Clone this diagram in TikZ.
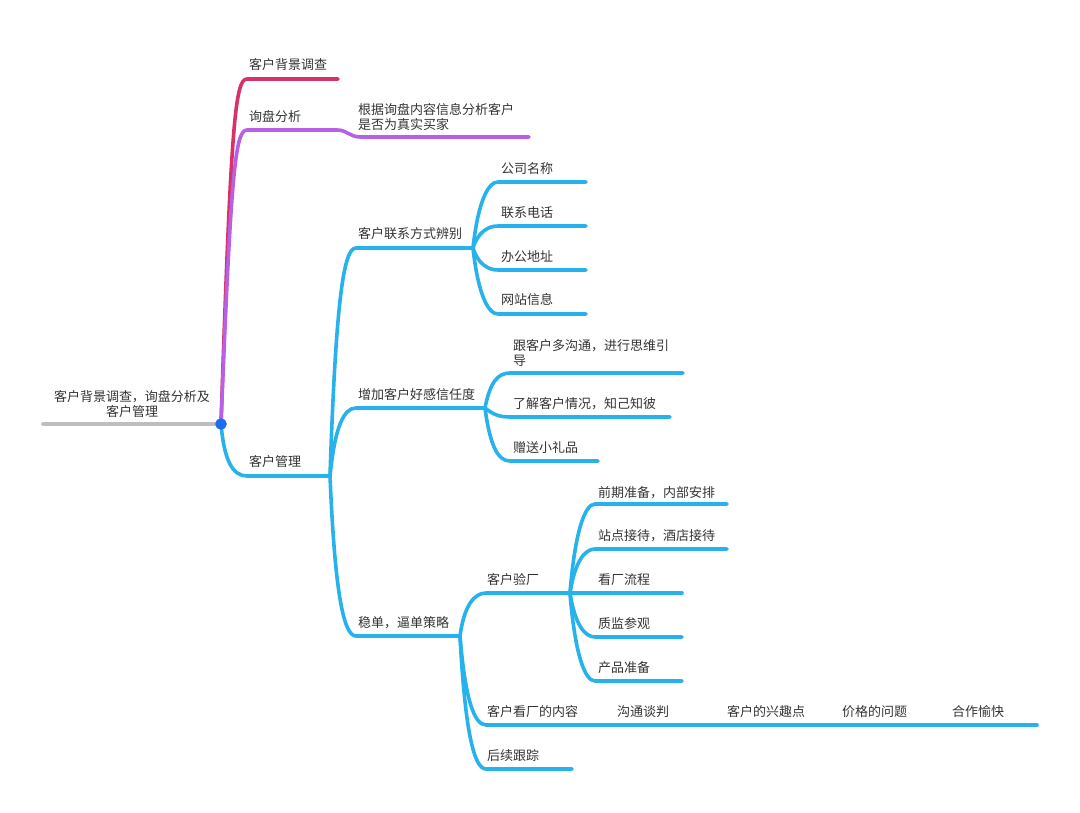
\documentclass[tikz,border=0pt]{standalone}
\usepackage{fontspec}
\setmainfont{Noto Sans CJK SC}

\definecolor{vermelho}{RGB}{214,51,102}
\definecolor{roxo}{RGB}{185,95,230}
\definecolor{azul}{RGB}{40,178,236}
\definecolor{cinza}{RGB}{190,190,190}
\definecolor{ponto}{RGB}{25,110,240}
\definecolor{texto}{RGB}{51,51,51}

\begin{document}
\begin{tikzpicture}[x=1pt,y=-1pt,
    ramo/.style={line width=3.6pt, line cap=round},
    rotulo/.style={anchor=west, inner sep=0pt, text=texto, font=\fontsize{13}{15}\selectfont}]
        \useasboundingbox (0,0) rectangle (1080,813);

        % Textos
        \node[rotulo, anchor=center, align=center] (raiz) at (132,404) {客户背景调查，询盘分析及\\客户管理};
        \node[rotulo] (fundo) at (249,65) {客户背景调查};
        \node[rotulo] (inquerito) at (249,117) {询盘分析};
        \node[rotulo, align=left] (comprador) at (358,117) {根据询盘内容信息分析客户\\是否为真实买家};
        \node[rotulo] (gestao) at (249,462) {客户管理};
        \node[rotulo] (contato) at (358,234) {客户联系方式辨别};
        \node[rotulo] (confianca) at (358,395) {增加客户好感信任度};
        \node[rotulo] (estrategia) at (358,623) {稳单，逼单策略};
        \node[rotulo] (empresa) at (501,169) {公司名称};
        \node[rotulo] (telefone) at (501,213) {联系电话};
        \node[rotulo] (endereco) at (501,257) {办公地址};
        \node[rotulo] (site) at (501,300) {网站信息};
        \node[rotulo, align=left] (conversa) at (513,353) {跟客户多沟通，进行思维引\\导};
        \node[rotulo] (conhecer) at (513,404) {了解客户情况，知己知彼};
        \node[rotulo] (brinde) at (513,448) {赠送小礼品};
        \node[rotulo] (visita) at (487,580) {客户验厂};
        \node[rotulo] (conteudo) at (487,712) {客户看厂的内容};
        \node[rotulo] (seguimento) at (487,756) {后续跟踪};
        \node[rotulo] (preparo) at (598,493) {前期准备，内部安排};
        \node[rotulo] (recepcao) at (598,536) {站点接待，酒店接待};
        \node[rotulo] (fluxo) at (598,580) {看厂流程};
        \node[rotulo] (qualidade) at (598,624) {质监参观};
        \node[rotulo] (produto) at (598,668) {产品准备};
        \node[rotulo] (negociacao) at (617,712) {沟通谈判};
        \node[rotulo] (interesse) at (727,712) {客户的兴趣点};
        \node[rotulo] (preco) at (842,712) {价格的问题};
        \node[rotulo] (acordo) at (952,712) {合作愉快};

        % Pontos de ligacao
        \coordinate (r0) at (43,424);
        \coordinate (hub) at (221,424);
        \coordinate (fundoA) at (247,79);      \coordinate (fundoB) at (338,79);
        \coordinate (inqA) at (247,130);       \coordinate (inqB) at (337,130);
        \coordinate (compA) at (360,137);      \coordinate (compB) at (529,137);
        \coordinate (gestA) at (247,476);      \coordinate (gestB) at (330,476);
        \coordinate (contA) at (356,248);      \coordinate (contB) at (473,248);
        \coordinate (confA) at (356,408);      \coordinate (confB) at (485,408);
        \coordinate (estrA) at (356,636);      \coordinate (estrB) at (460,636);
        \coordinate (empA) at (498,182);       \coordinate (empB) at (586,182);
        \coordinate (telA) at (498,226);       \coordinate (telB) at (586,226);
        \coordinate (endA) at (498,270);       \coordinate (endB) at (586,270);
        \coordinate (siteA) at (498,314);      \coordinate (siteB) at (586,314);
        \coordinate (convA) at (510,373);      \coordinate (convB) at (683,373);
        \coordinate (conhA) at (510,417);      \coordinate (conhB) at (670,417);
        \coordinate (brinA) at (510,461);      \coordinate (brinB) at (598,461);
        \coordinate (visA) at (486,593);       \coordinate (visB) at (570,593);
        \coordinate (contdA) at (486,725);     \coordinate (contdB) at (612,725);
        \coordinate (negB) at (722,725);       \coordinate (intB) at (837,725);
        \coordinate (precB) at (947,725);      \coordinate (acoB) at (1037,725);
        \coordinate (segA) at (486,769);       \coordinate (segB) at (572,769);
        \coordinate (prepA) at (595,504);      \coordinate (prepB) at (727,504);
        \coordinate (recA) at (595,549);       \coordinate (recB) at (727,549);
        \coordinate (fluxB) at (682,593);
        \coordinate (qualA) at (595,637);      \coordinate (qualB) at (682,637);
        \coordinate (prodA) at (595,681);      \coordinate (prodB) at (682,681);

        % Raiz
        \draw[ramo, cinza] (r0) -- (hub);
        \draw[ramo, vermelho] (hub) .. controls +(10,-300) and +(-12,0) .. (fundoA) -- (fundoB);
        \draw[ramo, roxo] (hub) .. controls +(10,-250) and +(-12,0) .. (inqA) -- (inqB)
            .. controls +(10,0) and +(-10,0) .. (compA) -- (compB);
        \draw[ramo, azul] (hub) .. controls +(3,35) and +(-15,0) .. (gestA) -- (gestB);

        %客户管理
        \draw[ramo, azul] (gestB) .. controls +(6,-180) and +(-12,0) .. (contA) -- (contB);
        \draw[ramo, azul] (gestB) .. controls +(5,-50) and +(-12,0) .. (confA) -- (confB);
        \draw[ramo, azul] (gestB) .. controls +(5,120) and +(-12,0) .. (estrA) -- (estrB);

        % 客户联系方式辨别
        \draw[ramo, azul] (contB) .. controls +(5,-46) and +(-10,0) .. (empA) -- (empB);
        \draw[ramo, azul] (contB) .. controls +(5,-16) and +(-10,0) .. (telA) -- (telB);
        \draw[ramo, azul] (contB) .. controls +(5,16) and +(-10,0) .. (endA) -- (endB);
        \draw[ramo, azul] (contB) .. controls +(5,46) and +(-10,0) .. (siteA) -- (siteB);

        % 增加客户好感信任度
        \draw[ramo, azul] (confB) .. controls +(5,-26) and +(-12,0) .. (convA) -- (convB);
        \draw[ramo, azul] (confB) .. controls +(8,6) and +(-12,0) .. (conhA) -- (conhB);
        \draw[ramo, azul] (confB) .. controls +(5,38) and +(-12,0) .. (brinA) -- (brinB);

        % 稳单，逼单策略
        \draw[ramo, azul] (estrB) .. controls +(4,-30) and +(-12,0) .. (visA) -- (visB);
        \draw[ramo, azul] (estrB) .. controls +(5,62) and +(-12,0) .. (contdA) -- (contdB);
        \draw[ramo, azul] (contdB) -- (negB) -- (intB) -- (precB) -- (acoB);
        \draw[ramo, azul] (estrB) .. controls +(5,95) and +(-12,0) .. (segA) -- (segB);

        % 客户验厂
        \draw[ramo, azul] (visB) .. controls +(5,-62) and +(-10,0) .. (prepA) -- (prepB);
        \draw[ramo, azul] (visB) .. controls +(5,-32) and +(-10,0) .. (recA) -- (recB);
        \draw[ramo, azul] (visB) -- (fluxB);
        \draw[ramo, azul] (visB) .. controls +(5,32) and +(-10,0) .. (qualA) -- (qualB);
        \draw[ramo, azul] (visB) .. controls +(5,62) and +(-10,0) .. (prodA) -- (prodB);

        \filldraw[ponto] (hub) circle (5.5pt);
    \end{tikzpicture}
\end{document}
